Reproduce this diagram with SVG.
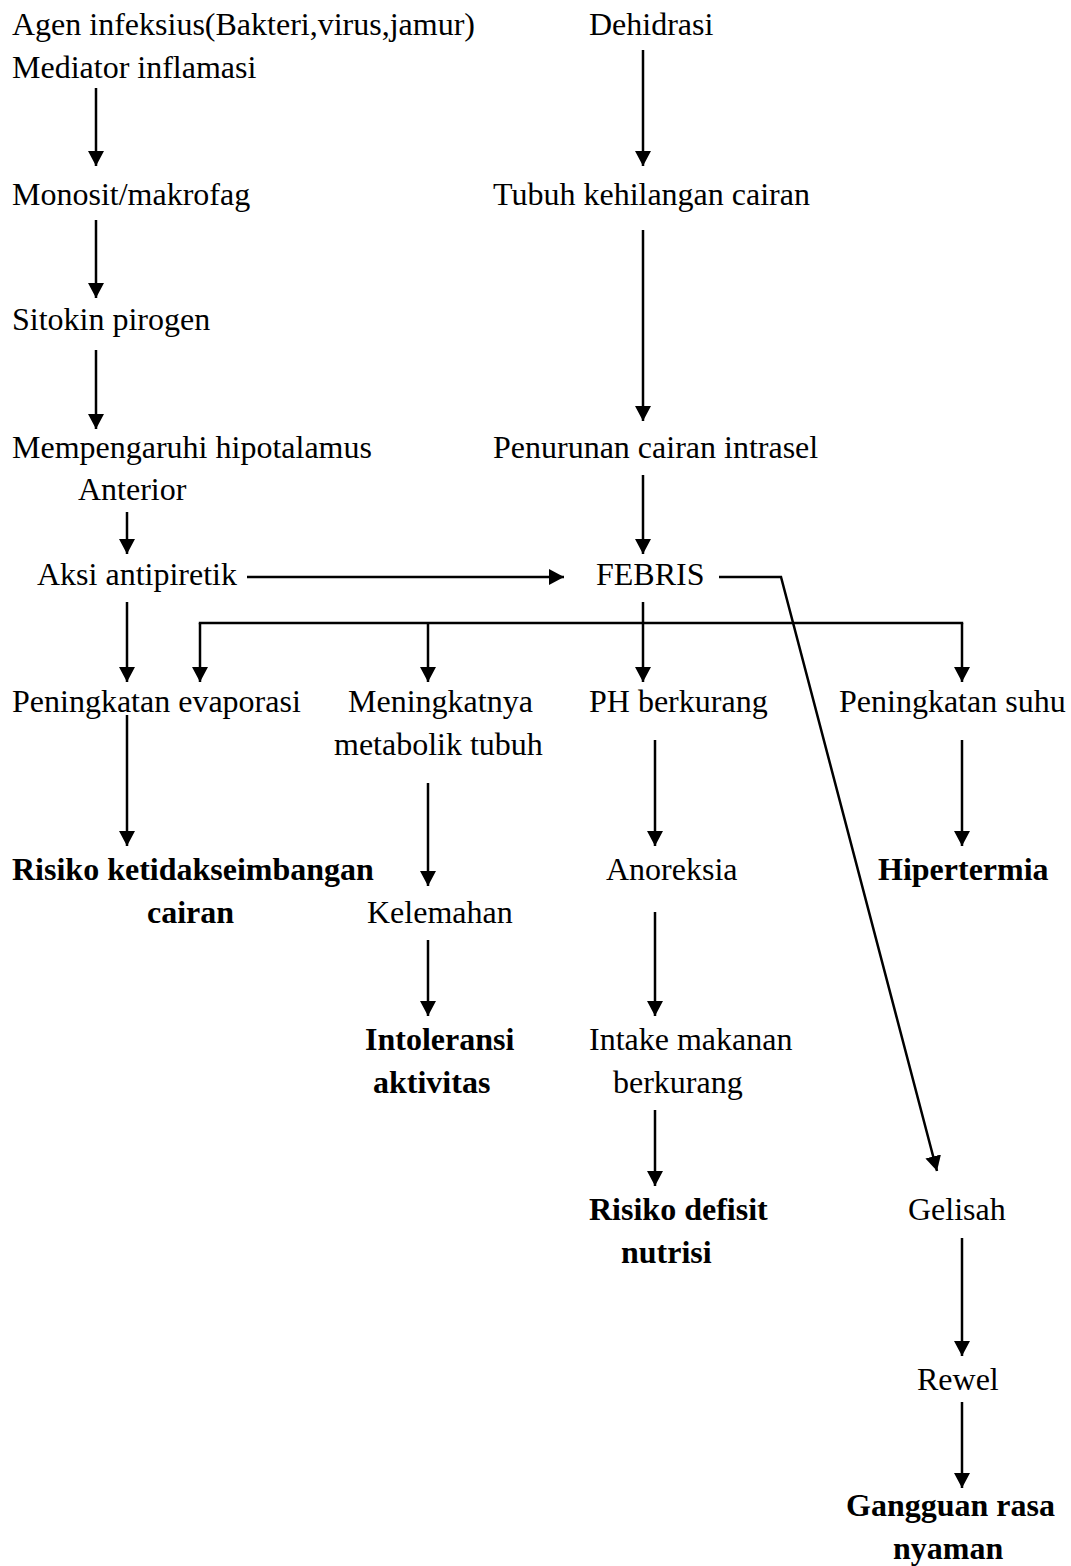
<svg xmlns="http://www.w3.org/2000/svg" width="1071" height="1566" viewBox="0 0 1071 1566">
<defs>
<style>
text{font-family:"Liberation Serif","Times New Roman",serif;font-size:32px;fill:#000}
.b{font-weight:bold}
.c{stroke:#000;stroke-width:2.5;fill:none}
</style>
<marker id="ah" markerUnits="userSpaceOnUse" markerWidth="15" markerHeight="16" viewBox="0 0 15 16" refX="15" refY="8" orient="auto">
<path d="M0,0 L15,8 L0,16 z" fill="#000"/>
</marker>
</defs>
<rect width="1071" height="1566" fill="#fff"/>
<g id="connectors">
<line class="c" x1="96" y1="88" x2="96" y2="166" marker-end="url(#ah)"/>
<line class="c" x1="96" y1="220" x2="96" y2="298" marker-end="url(#ah)"/>
<line class="c" x1="96" y1="350" x2="96" y2="429" marker-end="url(#ah)"/>
<line class="c" x1="127" y1="512" x2="127" y2="554" marker-end="url(#ah)"/>
<line class="c" x1="247" y1="577" x2="564" y2="577" marker-end="url(#ah)"/>
<line class="c" x1="127" y1="602" x2="127" y2="682" marker-end="url(#ah)"/>
<line class="c" x1="198.8" y1="623" x2="963.2" y2="623"/>
<line class="c" x1="200" y1="623" x2="200" y2="682" marker-end="url(#ah)"/>
<line class="c" x1="428" y1="623" x2="428" y2="682" marker-end="url(#ah)"/>
<line class="c" x1="962" y1="623" x2="962" y2="682" marker-end="url(#ah)"/>
<line class="c" x1="643" y1="602" x2="643" y2="682" marker-end="url(#ah)"/>
<polyline class="c" points="719,577 781,577 937,1171" marker-end="url(#ah)"/>
<line class="c" x1="643" y1="50" x2="643" y2="166" marker-end="url(#ah)"/>
<line class="c" x1="643" y1="230" x2="643" y2="421" marker-end="url(#ah)"/>
<line class="c" x1="643" y1="475" x2="643" y2="554" marker-end="url(#ah)"/>
<line class="c" x1="127" y1="715" x2="127" y2="846" marker-end="url(#ah)"/>
<line class="c" x1="428" y1="783" x2="428" y2="886" marker-end="url(#ah)"/>
<line class="c" x1="428" y1="940" x2="428" y2="1016" marker-end="url(#ah)"/>
<line class="c" x1="655" y1="740" x2="655" y2="846" marker-end="url(#ah)"/>
<line class="c" x1="655" y1="912" x2="655" y2="1016" marker-end="url(#ah)"/>
<line class="c" x1="655" y1="1110" x2="655" y2="1186" marker-end="url(#ah)"/>
<line class="c" x1="962" y1="740" x2="962" y2="846" marker-end="url(#ah)"/>
<line class="c" x1="962" y1="1238" x2="962" y2="1356" marker-end="url(#ah)"/>
<line class="c" x1="962" y1="1402" x2="962" y2="1488" marker-end="url(#ah)"/>
</g>
<g id="n-agen"><text x="12" y="35">Agen infeksius(Bakteri,virus,jamur)</text></g>
<g id="n-mediator"><text x="12" y="78">Mediator inflamasi</text></g>
<g id="n-monosit"><text x="12" y="205">Monosit/makrofag</text></g>
<g id="n-sitokin"><text x="12" y="330">Sitokin pirogen</text></g>
<g id="n-hipotalamus"><text x="12" y="458">Mempengaruhi hipotalamus</text><text x="78" y="500">Anterior</text></g>
<g id="n-aksi"><text x="37" y="585">Aksi antipiretik</text></g>
<g id="n-evaporasi"><text x="12" y="712">Peningkatan evaporasi</text></g>
<g id="n-risiko-cairan"><text class="b" x="12" y="880">Risiko ketidakseimbangan</text><text class="b" x="147" y="923">cairan</text></g>
<g id="n-dehidrasi"><text x="589" y="35">Dehidrasi</text></g>
<g id="n-tubuh"><text x="493" y="205">Tubuh kehilangan cairan</text></g>
<g id="n-penurunan"><text x="493" y="458">Penurunan cairan intrasel</text></g>
<g id="n-febris"><text x="596" y="585">FEBRIS</text></g>
<g id="n-metabolik"><text x="348" y="712">Meningkatnya</text><text x="334" y="755">metabolik tubuh</text></g>
<g id="n-ph"><text x="589" y="712">PH berkurang</text></g>
<g id="n-suhu"><text x="839" y="712">Peningkatan suhu</text></g>
<g id="n-hipertermia"><text class="b" x="878" y="880">Hipertermia</text></g>
<g id="n-kelemahan"><text x="367" y="923">Kelemahan</text></g>
<g id="n-anoreksia"><text x="606" y="880">Anoreksia</text></g>
<g id="n-intoleransi"><text class="b" x="365" y="1050">Intoleransi</text><text class="b" x="373" y="1093">aktivitas</text></g>
<g id="n-intake"><text x="589" y="1050">Intake makanan</text><text x="613" y="1093">berkurang</text></g>
<g id="n-nutrisi"><text class="b" x="589" y="1220">Risiko defisit</text><text class="b" x="621" y="1263">nutrisi</text></g>
<g id="n-gelisah"><text x="908" y="1220">Gelisah</text></g>
<g id="n-rewel"><text x="917" y="1390">Rewel</text></g>
<g id="n-gangguan"><text class="b" x="846" y="1516">Gangguan rasa</text><text class="b" x="893" y="1559">nyaman</text></g>
</svg>
